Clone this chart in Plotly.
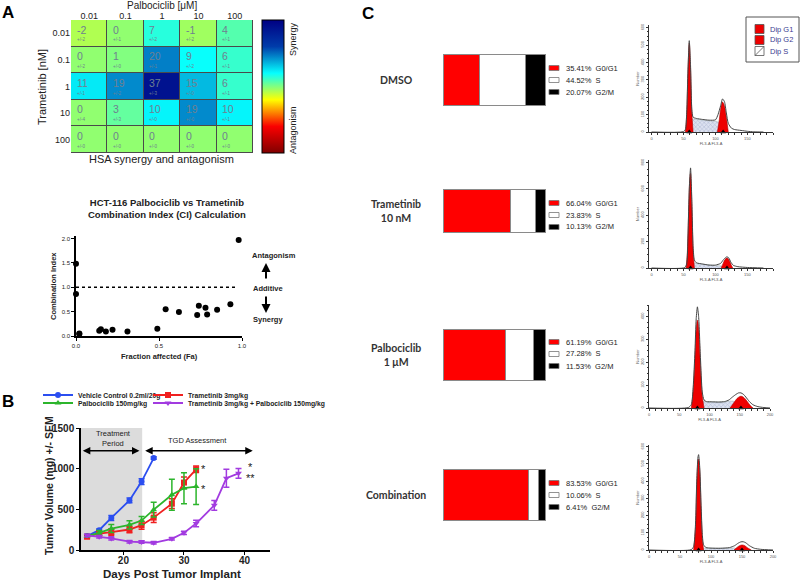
import plotly.graph_objects as go

# ---------------- data ----------------
palbo_labels = ["0.01", "0.1", "1", "10", "100"]
trame_labels = ["0.01", "0.1", "1", "10", "100"]
hsa_values = [
    [-2, 0, 7, -1, 4],
    [0, 1, 20, 9, 6],
    [11, 19, 37, 15, 6],
    [0, 3, 10, 19, 10],
    [0, 0, 0, 0, 0],
]
hsa_errors = [
    [2, 1, 2, 2, 1],
    [2, 0, 1, 2, 1],
    [1, 2, 3, 0, 1],
    [4, 3, 0, 0, 1],
    [0, 0, 0, 0, 0],
]

ci_fa = [0.0, 0.0, 0.02, 0.02, 0.14, 0.15, 0.18, 0.22, 0.31, 0.49, 0.54, 0.62,
         0.73, 0.74, 0.78, 0.79, 0.85, 0.93, 0.98]
ci_val = [1.48, 0.86, 0.04, 0.05, 0.11, 0.14, 0.09, 0.13, 0.09, 0.15, 0.55, 0.49,
          0.43, 0.62, 0.58, 0.44, 0.54, 0.65, 1.97]

veh_days = [14, 16, 18, 21, 23, 25]
veh_vol = [171, 244, 394, 610, 841, 1130]
veh_err = [20, 15, 30, 30, 35, 15]
tram_days = [14, 16, 18, 21, 23, 25, 28, 30, 32]
tram_vol = [163, 200, 220, 252, 305, 398, 569, 829, 992]
tram_err = [20, 25, 40, 40, 50, 60, 60, 70, 40]
palbo_days = [14, 16, 18, 21, 23, 25, 28, 30, 32]
palbo_vol = [171, 211, 264, 309, 362, 496, 679, 760, 780]
palbo_err = [15, 30, 50, 50, 50, 90, 190, 190, 220]
combo_days = [14, 16, 18, 21, 23, 25, 28, 30, 32, 35, 37, 39]
combo_vol = [179, 163, 142, 102, 98, 89, 138, 211, 325, 549, 882, 943]
combo_err = [15, 15, 20, 15, 15, 15, 15, 20, 40, 60, 110, 60]

conditions = ["DMSO", "Trametinib<br>10 nM", "Palbociclib<br>1 μM", "Combination"]
g1_pct = [35.41, 66.04, 61.19, 83.53]
s_pct = [44.52, 23.83, 27.28, 10.06]
g2m_pct = [20.07, 10.13, 11.53, 6.41]

# flow histograms: total outline, G1 peak, G2 peak, S region, peak markers
hist = [
    dict(tx=[0, 50, 53, 55, 57, 59, 61, 63, 65, 70, 80, 90, 100, 104, 108, 111, 114, 117, 120, 125, 130, 140, 150, 160, 175],
         ty=[0, 2, 15, 110, 360, 525, 380, 130, 85, 78, 72, 68, 70, 100, 150, 190, 175, 110, 50, 22, 14, 9, 4, 1, 0],
         g1x=[53, 55, 57, 59, 61, 63, 65], g1y=[0, 100, 345, 510, 365, 115, 0],
         g2x=[103, 106, 108, 111, 114, 117, 120], g2y=[0, 70, 130, 172, 150, 85, 0],
         sx=[58, 62, 65, 70, 80, 90, 100, 106, 110, 114], sy=[0, 70, 75, 72, 68, 64, 62, 55, 40, 0],
         peaks=[59, 112], xr=[-4, 190], yr=[0, 615], dt=100, ticks=[0, 50, 100, 150]),
    dict(tx=[0, 52, 55, 57, 59, 61, 63, 65, 67, 70, 80, 90, 100, 108, 112, 116, 118, 121, 124, 128, 135, 150, 175],
         ty=[0, 3, 30, 250, 600, 760, 520, 160, 60, 40, 30, 22, 22, 35, 60, 80, 85, 75, 45, 20, 10, 4, 0],
         g1x=[54, 56, 58, 60, 61, 63, 65, 67], g1y=[0, 120, 420, 690, 720, 480, 140, 0],
         g2x=[109, 112, 115, 118, 121, 124, 127], g2y=[0, 35, 65, 75, 62, 30, 0],
         sx=[62, 66, 70, 80, 90, 100, 110, 116], sy=[0, 38, 35, 28, 20, 18, 15, 0],
         peaks=[61, 118], xr=[-4, 190], yr=[0, 820], dt=200, ticks=[0, 50, 100, 150]),
    dict(tx=[0, 65, 70, 73, 76, 78, 80, 82, 85, 88, 91, 95, 105, 115, 125, 132, 138, 144, 148, 152, 156, 160, 166, 172, 180, 190, 200],
         ty=[0, 2, 15, 90, 250, 390, 442, 400, 220, 70, 35, 28, 27, 26, 28, 35, 48, 60, 66, 66, 60, 48, 28, 14, 6, 2, 0],
         g1x=[70, 73, 76, 78, 80, 82, 85, 88, 91], g1y=[0, 75, 220, 340, 384, 350, 190, 55, 0],
         g2x=[134, 140, 145, 150, 153, 157, 162, 167, 172], g2y=[0, 22, 40, 50, 51, 45, 30, 12, 0],
         sx=[86, 90, 95, 105, 115, 125, 132, 140, 146], sy=[0, 30, 26, 25, 24, 26, 30, 30, 0],
         peaks=[80, 152], xr=[0, 200], yr=[0, 450], dt=100, ticks=[0, 50, 100, 150, 200]),
    dict(tx=[0, 68, 72, 75, 77, 79, 80, 82, 84, 86, 88, 92, 100, 115, 130, 138, 144, 148, 152, 156, 162, 170, 180, 200],
         ty=[0, 2, 20, 150, 400, 540, 554, 470, 260, 90, 30, 14, 11, 10, 14, 25, 40, 47, 48, 42, 25, 10, 4, 0],
         g1x=[72, 75, 77, 79, 80, 82, 84, 86, 88], g1y=[0, 130, 370, 515, 529, 450, 240, 70, 0],
         g2x=[137, 142, 146, 150, 154, 158, 165], g2y=[0, 15, 25, 29, 26, 15, 0],
         sx=[85, 90, 100, 115, 130, 138, 144], sy=[0, 12, 10, 9, 10, 12, 0],
         peaks=[80, 150], xr=[0, 200], yr=[0, 610], dt=100, ticks=[0, 50, 100, 150, 200]),
]

# ---------------- layout helpers ----------------
W, H = 800, 581


def px(x):
    return x / W


def py(y):
    return 1 - y / H


def dom_x(a, b):
    return [px(a), px(b)]


def dom_y(top, bottom):
    return [py(bottom), py(top)]


ARIAL = "Liberation Sans, Arial"
CAL = "Lato, Open Sans"

fig = go.Figure()
annots = []
shapes = []

# ---------------- Panel A: HSA heatmap ----------------
fig.add_trace(go.Heatmap(
    z=hsa_values, x=list(range(5)), y=list(range(5)),
    colorscale="Jet", reversescale=True, zmin=-40, zmax=42,
    xgap=1, ygap=1, xaxis="x", yaxis="y", hoverinfo="skip",
    colorbar=dict(x=px(262), xanchor="left", y=py(86.5), yanchor="middle",
                  len=133 / H, thickness=22, outlinecolor="black", outlinewidth=1,
                  showticklabels=False, ticks="", xpad=0, ypad=0),
))
shapes.append(dict(type="rect", xref="x", yref="y", x0=-0.5, x1=4.5, y0=-0.5, y1=4.5,
                   fillcolor="#4a4a4a", line=dict(color="#4a4a4a", width=1), layer="below"))
for i in range(5):
    for j in range(5):
        annots.append(dict(x=j - 0.4, y=i - 0.14, xref="x", yref="y", xanchor="left",
                           text=str(hsa_values[i][j]),
                           font=dict(family=ARIAL, size=10.5, color="#6f8090")))
        annots.append(dict(x=j - 0.4, y=i + 0.25, xref="x", yref="y", xanchor="left",
                           text="+/-" + str(hsa_errors[i][j]),
                           font=dict(family=ARIAL, size=4.5, color="#6f8090")))

layout_axes = dict(
    xaxis=dict(domain=dom_x(71, 253), range=[-0.5, 4.5], side="top", anchor="y",
               tickvals=list(range(5)), ticktext=palbo_labels, ticks="", showgrid=False,
               zeroline=False, tickfont=dict(family=ARIAL, size=9, color="#222"), ticklabelstandoff=-2),
    yaxis=dict(domain=dom_y(20, 153), range=[4.5, -0.5], anchor="x",
               tickvals=list(range(5)), ticktext=trame_labels, ticks="", showgrid=False,
               zeroline=False, tickfont=dict(family=ARIAL, size=9, color="#222")),
)
annots += [
    dict(x=px(162), y=py(6), text="Palbociclib [μM]", font=dict(family=ARIAL, size=10, color="#222")),
    dict(x=px(42), y=py(87), text="Trametinib [nM]", textangle=-90, font=dict(family=ARIAL, size=11, color="#222")),
    dict(x=px(161), y=py(159), text="HSA synergy and antagonism", font=dict(family=ARIAL, size=11, color="#222")),
    dict(x=px(293), y=py(39), text="Synergy", textangle=-90, font=dict(family=ARIAL, size=9, color="#222")),
    dict(x=px(293), y=py(130), text="Antagonism", textangle=-90, font=dict(family=ARIAL, size=9, color="#222")),
    dict(x=px(8), y=py(13), text="<b>A</b>", font=dict(family=ARIAL, size=17, color="black")),
    dict(x=px(8), y=py(401), text="<b>B</b>", font=dict(family=ARIAL, size=17, color="black")),
    dict(x=px(368), y=py(14), text="<b>C</b>", font=dict(family=ARIAL, size=17, color="black")),
]

# ---------------- Panel A: combination index ----------------
fig.add_trace(go.Scatter(x=ci_fa, y=ci_val, mode="markers", xaxis="x2", yaxis="y2",
                         marker=dict(color="black", size=6), cliponaxis=False, showlegend=False))
shapes.append(dict(type="line", xref="x2", yref="y2", x0=0, x1=0.96, y0=1, y1=1,
                   line=dict(color="black", width=1.5, dash="dot")))
small_axis = dict(showline=True, linecolor="black", linewidth=1.5, ticks="outside", ticklen=3,
                  tickcolor="black", showgrid=False, zeroline=False,
                  tickfont=dict(family=ARIAL, size=6, color="#222"), tickformat=".1f")
layout_axes["xaxis2"] = dict(small_axis, domain=dom_x(76, 242), range=[0, 1.0], dtick=0.5, anchor="y2")
layout_axes["yaxis2"] = dict(small_axis, domain=dom_y(236, 336), range=[0, 2.05], dtick=0.5, anchor="x2")
annots += [
    dict(x=px(167), y=py(208), text="<b>HCT-116 Palbociclib vs Trametinib<br>Combination Index (CI) Calculation</b>",
         font=dict(family=ARIAL, size=9.5, color="#222")),
    dict(x=px(159), y=py(356), text="<b>Fraction affected (Fa)</b>", font=dict(family=ARIAL, size=7.5, color="#222")),
    dict(x=px(53), y=py(286), text="<b>Combination Index</b>", textangle=-90, font=dict(family=ARIAL, size=7.5, color="#222")),
    dict(x=px(274), y=py(256), text="<b>Antagonism</b>", font=dict(family=ARIAL, size=7.5, color="#222")),
    dict(x=px(268), y=py(288), text="<b>Additive</b>", font=dict(family=ARIAL, size=7.5, color="#222")),
    dict(x=px(268), y=py(320), text="<b>Synergy</b>", font=dict(family=ARIAL, size=7.5, color="#222")),
    dict(x=px(266), y=py(263), ax=0, ay=17, text="", showarrow=True, arrowhead=2, arrowwidth=2,
         arrowsize=0.9, arrowcolor="black"),
    dict(x=px(266), y=py(313), ax=0, ay=-18, text="", showarrow=True, arrowhead=2, arrowwidth=2,
         arrowsize=0.9, arrowcolor="black"),
]

# ---------------- Panel B: tumor growth ----------------
series = [
    ("Vehicle Control 0.2ml/20g", veh_days, veh_vol, veh_err, "#2b4ef0", "circle", "legend", 38, 395),
    ("Trametinib 3mg/kg", tram_days, tram_vol, tram_err, "#f02020", "square", "legend2", 148, 395),
    ("Palbociclib 150mg/kg", palbo_days, palbo_vol, palbo_err, "#2cb52c", "triangle-up", "legend3", 38, 403),
    ("Trametinib 3mg/kg + Palbociclib 150mg/kg", combo_days, combo_vol, combo_err, "#a23be0", "triangle-down", "legend4", 148, 403),
]
legends = {}
for name, d, v, e, c, sym, leg, lx, ly in series:
    fig.add_trace(go.Scatter(
        x=d, y=v, name=name, mode="lines+markers", xaxis="x3", yaxis="y3", legend=leg,
        line=dict(color=c, width=1.8), marker=dict(color=c, symbol=sym, size=6),
        error_y=dict(type="data", array=e, color=c, thickness=1.5, width=3), cliponaxis=False,
    ))
    legends[leg] = dict(x=px(lx), y=py(ly), xanchor="left", yanchor="middle", bgcolor="rgba(0,0,0,0)",
                        itemwidth=30, traceorder="normal",
                        font=dict(family=ARIAL, size=6.8, color="#222", weight="bold"))
shapes.append(dict(type="rect", xref="x3", yref="y3", x0=13.0, x1=23.1, y0=0, y1=1500,
                   fillcolor="#dcdcdc", line=dict(width=0), layer="below"))
big_font = dict(family=ARIAL, size=10, color="#222", weight="bold")
layout_axes["xaxis3"] = dict(domain=dom_x(81, 270), range=[13.0, 44.2], anchor="y3", tickvals=[20, 30, 40],
                             showline=True, linecolor="black", linewidth=1.5, ticks="outside", ticklen=3,
                             tickcolor="black", showgrid=False, zeroline=False, tickfont=big_font,
                             ticklabelstandoff=-3)
layout_axes["yaxis3"] = dict(domain=dom_y(428, 550), range=[0, 1500], anchor="x3", dtick=500,
                             showline=True, linecolor="black", linewidth=1.5, ticks="outside", ticklen=3,
                             tickcolor="black", showgrid=False, zeroline=False, tickfont=big_font)
annots += [
    dict(x=px(172), y=py(574), text="<b>Days Post Tumor Implant</b>", font=dict(family=ARIAL, size=11.5, color="#222")),
    dict(x=px(49), y=py(486), text="<b>Tumor Volume (mg) +/- SEM</b>", textangle=-90,
         font=dict(family=ARIAL, size=10.5, color="#222")),
    dict(x=13.3, y=1220, ax=22.9, ay=1220, xref="x3", yref="y3", axref="x3", ayref="y3", text="",
         showarrow=True, arrowhead=2, arrowside="end+start", arrowwidth=1.5, arrowsize=1, arrowcolor="black"),
    dict(x=23.6, y=1220, ax=41.6, ay=1220, xref="x3", yref="y3", axref="x3", ayref="y3", text="",
         showarrow=True, arrowhead=2, arrowside="end+start", arrowwidth=1.5, arrowsize=1, arrowcolor="black"),
    dict(x=18.4, y=1370, xref="x3", yref="y3", text="Treatment<br>Period",
         font=dict(family=ARIAL, size=7.5, color="#222")),
    dict(x=32.2, y=1345, xref="x3", yref="y3", text="TGD Assessment",
         font=dict(family=ARIAL, size=7.5, color="#222")),
    dict(x=33.2, y=990, xref="x3", yref="y3", text="*", font=dict(family=ARIAL, size=11, color="#222")),
    dict(x=33.2, y=745, xref="x3", yref="y3", text="*", font=dict(family=ARIAL, size=11, color="#222")),
    dict(x=41.0, y=1025, xref="x3", yref="y3", text="*", font=dict(family=ARIAL, size=11, color="#222")),
    dict(x=41.0, y=880, xref="x3", yref="y3", text="**", font=dict(family=ARIAL, size=11, color="#222")),
]

# ---------------- Panel C: stacked bars ----------------
bar_rows = [(54, 106), (190, 232), (329, 381), (469, 521)]
text_centers = [80, 215, 354, 495]
for k, (top, bot) in enumerate(bar_rows):
    n = 4 + k
    xa, ya = "x%d" % n, "y%d" % n
    for val, col in [(g1_pct[k], "#ff0000"), (s_pct[k], "white"), (g2m_pct[k], "black")]:
        fig.add_trace(go.Bar(x=[val], y=[0], orientation="h", xaxis=xa, yaxis=ya, width=1,
                             marker=dict(color=col, line=dict(color="#8a8a8a", width=1)),
                             showlegend=False, hoverinfo="skip"))
    layout_axes["xaxis%d" % n] = dict(domain=dom_x(443, 546), range=[-0.5, 100.5], visible=False, anchor=ya)
    layout_axes["yaxis%d" % n] = dict(domain=dom_y(top - 1, bot + 1), range=[-0.52, 0.52], visible=False, anchor=xa)
    annots.append(dict(x=px(396), y=py((top + bot) / 2), text="<b>%s</b>" % conditions[k],
                       font=dict(family=CAL, size=10.5, color="#333")))
    c = text_centers[k]
    labels = ["%.2f%%  G0/G1" % g1_pct[k], "%.2f%%  S" % s_pct[k], "%.2f%%  G2/M" % g2m_pct[k]]
    for r, (lab, col) in enumerate(zip(labels, ["#ff0000", "white", "black"])):
        yy = c + (r - 1) * 12
        shapes.append(dict(type="rect", xref="paper", yref="paper", x0=px(549), x1=px(559),
                           y0=py(yy + 2.5), y1=py(yy - 2.5), fillcolor=col,
                           line=dict(color="#777", width=0.8)))
        annots.append(dict(x=px(564), y=py(yy), xanchor="left", text=lab,
                           font=dict(family=ARIAL, size=7.5, color="#222")))

# ---------------- Panel C: DNA histograms ----------------
hist_rows = [(25, 132, 649, 773), (160, 268, 649, 773), (305, 408, 649, 770), (445, 550, 649, 773)]
for k, h in enumerate(hist):
    n = 8 + k
    xa, ya = "x%d" % n, "y%d" % n
    top, bot, left, right = hist_rows[k]
    fig.add_trace(go.Scatter(x=h["sx"], y=h["sy"], mode="lines", fill="tozeroy", xaxis=xa, yaxis=ya,
                             line=dict(color="#9aa", width=0.5), fillcolor="rgba(220,225,240,1)",
                             fillpattern=dict(shape="x", fgcolor="#7b86b0", size=3, solidity=0.3),
                             showlegend=False, hoverinfo="skip"))
    for gx, gy in [(h["g1x"], h["g1y"]), (h["g2x"], h["g2y"])]:
        fig.add_trace(go.Scatter(x=gx, y=gy, mode="lines", fill="tozeroy", xaxis=xa, yaxis=ya,
                                 line=dict(color="#b00000", width=0.6, shape="spline"), fillcolor="#ee0000",
                                 showlegend=False, hoverinfo="skip"))
    fig.add_trace(go.Scatter(x=h["tx"], y=h["ty"], mode="lines", xaxis=xa, yaxis=ya,
                             line=dict(color="#444", width=1, shape="spline", smoothing=0.6),
                             showlegend=False, hoverinfo="skip"))
    fig.add_trace(go.Scatter(x=h["peaks"], y=[0, 0], mode="markers", xaxis=xa, yaxis=ya, cliponaxis=False,
                             marker=dict(symbol="triangle-up", color="black", size=5),
                             showlegend=False, hoverinfo="skip"))
    tiny = dict(family=ARIAL, size=4, color="#555")
    layout_axes["xaxis%d" % n] = dict(domain=dom_x(left, right), range=h["xr"], anchor=ya,
                                      tickvals=h["ticks"], showline=True, linecolor="#333", linewidth=1,
                                      ticks="outside", ticklen=2, tickcolor="#333", showgrid=False,
                                      zeroline=False, tickfont=tiny,
                                      minor=dict(dtick=10, ticks="outside", ticklen=1.5, tickcolor="#333"),
                                      title=dict(text="FL3-A FL3-A", font=tiny, standoff=0))
    layout_axes["yaxis%d" % n] = dict(domain=dom_y(top, bot), range=h["yr"], anchor=xa, dtick=h["dt"],
                                      showline=True, linecolor="#333", linewidth=1, ticks="outside",
                                      ticklen=2, tickcolor="#333", showgrid=False, zeroline=False,
                                      tickfont=tiny, tickangle=-90,
                                      minor=dict(dtick=h["dt"] / 4, ticks="outside", ticklen=1.5, tickcolor="#333"),
                                      title=dict(text="Number", font=tiny, standoff=0))

# histogram legend box
shapes.append(dict(type="rect", xref="paper", yref="paper", x0=px(746), x1=px(799), y0=py(62), y1=py(17),
                   line=dict(color="#555", width=1), fillcolor="white"))
for r, (lab, col) in enumerate([("Dip G1", "#ee0000"), ("Dip G2", "#ee0000"), ("Dip S", "white")]):
    yy = 29 + r * 11
    shapes.append(dict(type="rect", xref="paper", yref="paper", x0=px(755), x1=px(764),
                       y0=py(yy + 4.5), y1=py(yy - 4.5), fillcolor=col, line=dict(color="#555", width=0.8)))
    annots.append(dict(x=px(768), y=py(yy), xanchor="left", text=lab,
                       font=dict(family=ARIAL, size=7.5, color="#3a3a90")))
shapes.append(dict(type="line", xref="paper", yref="paper", x0=px(755), x1=px(764), y0=py(55.5), y1=py(46.5),
                   line=dict(color="#555", width=0.8)))

for a in annots:
    a.setdefault("xref", "paper")
    a.setdefault("yref", "paper")
    a.setdefault("showarrow", False)
    a.setdefault("xanchor", "center")
    a.setdefault("yanchor", "middle")

fig.update_layout(
    width=W, height=H, margin=dict(l=0, r=0, t=0, b=0, autoexpand=False),
    plot_bgcolor="white", paper_bgcolor="white", barmode="stack",
    showlegend=True,
    annotations=annots, shapes=shapes,
    **legends,
    **layout_axes,
)

fig.write_html("out.html", config={"displayModeBar": False},
               post_script="document.body.style.margin='0px';")
